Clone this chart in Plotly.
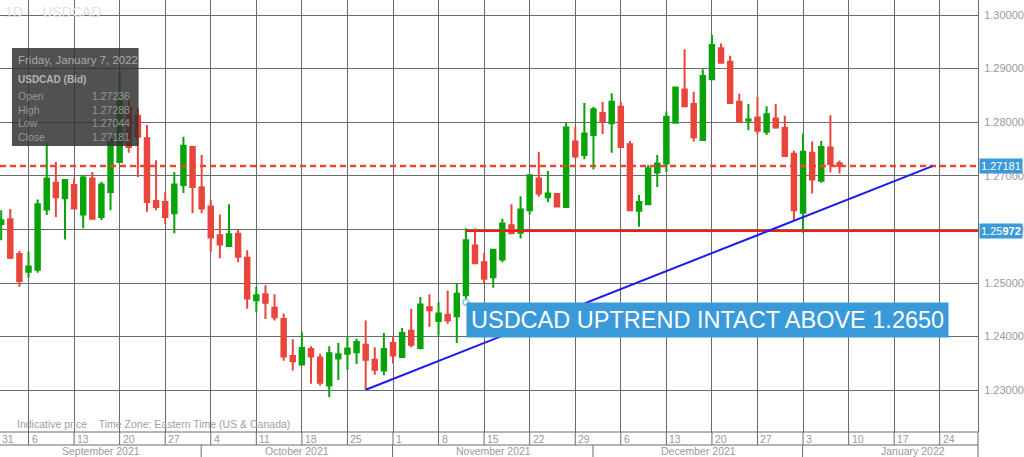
import pandas as pd
import plotly.graph_objects as go

# daily USDCAD bid candles, Sep 1 2021 .. Jan 7 2022 (one per weekday)
dates = pd.bdate_range("2021-09-01", "2022-01-07")
open_ = [
    1.2610, 1.2619, 1.2554, 1.2521, 1.2525, 1.2637, 1.2687, 1.2658, 1.2683, 1.2628,
    1.2695, 1.2623, 1.2670, 1.2726, 1.2827, 1.2812, 1.2770, 1.2653, 1.2651, 1.2630,
    1.2683, 1.2754,
    1.2678, 1.2643, 1.2589, 1.2569, 1.2592, 1.2547, 1.2468, 1.2479, 1.2454, 1.2433,
    1.2364, 1.2348, 1.2377, 1.2361, 1.2309, 1.2359, 1.2368, 1.2371, 1.2385, 1.2357,
    1.2337,
    1.2388, 1.2362, 1.2411, 1.2379, 1.2455, 1.2429, 1.2441, 1.2438, 1.2477, 1.2570,
    1.2539, 1.2511, 1.2544, 1.2608, 1.2594, 1.2636, 1.2695, 1.2660, 1.2666, 1.2642,
    1.2764, 1.2739,
    1.2776, 1.2817, 1.2798, 1.2829, 1.2759, 1.2635, 1.2647, 1.2706, 1.2723, 1.2799,
    1.2861, 1.2834, 1.2767, 1.2880, 1.2938, 1.2913, 1.2838, 1.2803, 1.2809, 1.2782,
    1.2807, 1.2789, 1.2741,
    1.2631, 1.2743, 1.2691, 1.2753, 1.27236,
]
high = [
    1.2636, 1.2638, 1.2560, 1.2559, 1.2656, 1.2761, 1.2726, 1.2693, 1.2695, 1.2701,
    1.2707, 1.2689, 1.2770, 1.2896, 1.2848, 1.2826, 1.2795, 1.2729, 1.2670, 1.2707,
    1.2773, 1.2756,
    1.2739, 1.2655, 1.2628, 1.2647, 1.2600, 1.2561, 1.2493, 1.2496, 1.2479, 1.2443,
    1.2395, 1.2408, 1.2382, 1.2368, 1.2382, 1.2388, 1.2399, 1.2396, 1.2430, 1.2380,
    1.2407,
    1.2399, 1.2416, 1.2452, 1.2474, 1.2479, 1.2464, 1.2486, 1.2500, 1.2602, 1.2602,
    1.2556, 1.2564, 1.2620, 1.2647, 1.2662, 1.2703, 1.2745, 1.2709, 1.2668, 1.2799,
    1.2792, 1.2836,
    1.2829, 1.2838, 1.2854, 1.2838, 1.2765, 1.2664, 1.2720, 1.2739, 1.2820, 1.2866,
    1.2936, 1.2857, 1.2899, 1.2963, 1.2947, 1.2924, 1.2853, 1.2834, 1.2847, 1.2830,
    1.2834, 1.2812, 1.2747,
    1.2779, 1.2764, 1.2765, 1.2813, 1.27288,
]
low = [
    1.2580, 1.2545, 1.2493, 1.2510, 1.2519, 1.2627, 1.2623, 1.2581, 1.2638, 1.2602,
    1.2619, 1.2617, 1.2636, 1.2724, 1.2743, 1.2698, 1.2633, 1.2636, 1.2610, 1.2593,
    1.2668, 1.2630,
    1.2630, 1.2558, 1.2546, 1.2568, 1.2539, 1.2452, 1.2446, 1.2433, 1.2430, 1.2355,
    1.2337, 1.2346, 1.2312, 1.2309, 1.2287, 1.2319, 1.2338, 1.2349, 1.2301, 1.2329,
    1.2328,
    1.2350, 1.2361, 1.2380, 1.2376, 1.2418, 1.2402, 1.2424, 1.2388, 1.2468, 1.2536,
    1.2500, 1.2491, 1.2539, 1.2592, 1.2583, 1.2628, 1.2661, 1.2651, 1.2642, 1.2641,
    1.2733, 1.2731,
    1.2712, 1.2778, 1.2743, 1.2753, 1.2635, 1.2605, 1.2645, 1.2679, 1.2707, 1.2798,
    1.2828, 1.2764, 1.2766, 1.2879, 1.2910, 1.2834, 1.2799, 1.2785, 1.2778, 1.2776,
    1.2788, 1.2735, 1.2617,
    1.2594, 1.2667, 1.2687, 1.2706, 1.27044,
]
close = [
    1.2617, 1.2547, 1.2504, 1.2531, 1.2647, 1.2695, 1.2660, 1.2692, 1.2639, 1.2697,
    1.2620, 1.2684, 1.2767, 1.2841, 1.2754, 1.2773, 1.2651, 1.2642, 1.2623, 1.2684,
    1.2756, 1.2679,
    1.2639, 1.2585, 1.2572, 1.2591, 1.2549, 1.2471, 1.2477, 1.2463, 1.2436, 1.2363,
    1.2354, 1.2379, 1.2363, 1.2314, 1.2369, 1.2367, 1.2378, 1.2390, 1.2357, 1.2338,
    1.2377,
    1.2365, 1.2407, 1.2385, 1.2460, 1.2449, 1.2443, 1.2430, 1.2480, 1.2580, 1.2537,
    1.2508, 1.2562, 1.2611, 1.2593, 1.2637, 1.2701, 1.2667, 1.2667, 1.2643, 1.2790,
    1.2736, 1.2779,
    1.2824, 1.2801, 1.2838, 1.2754, 1.2636, 1.2651, 1.2714, 1.2723, 1.2810, 1.2865,
    1.2830, 1.2772, 1.2886, 1.2944, 1.2911, 1.2836, 1.2801, 1.2805, 1.2784, 1.2815,
    1.2790, 1.2737, 1.2636,
    1.2745, 1.2693, 1.2754, 1.2722, 1.27181,
]

last_price = 1.27181
support_level = 1.25972
support_start = "2021-11-11"
trend_start = ("2021-10-27", 1.2301)
trend_end_x = 102.2  # trading-day index where the drawn trendline stops
trend_end_y = 1.27181
note_text = "USDCAD UPTREND INTACT ABOVE 1.2650"
note_anchor = ("2021-11-11", 1.2464)
info_title = "Friday, January 7, 2022"
info_rows = [("Open", "1.27236"), ("High", "1.27288"), ("Low", "1.27044"), ("Close", "1.27181")]
months = ["September 2021", "October 2021", "November 2021", "December 2021", "January 2022"]

GREEN = "#0aa20a"
RED = "#e8453c"
GRID = "#6a6a6a"
BLUE_TAG = "#3a9ad9"
LABEL = "#9a9a9a"
FONT = "Liberation Sans, Arial, sans-serif"

# the chart skips weekends, so x is the trading-day index
axis_days = pd.bdate_range("2021-09-01", "2022-02-28")
idx = {d: i for i, d in enumerate(axis_days)}
x = [idx[d] for d in dates]
X_RANGE = [-0.13, 107.2]
Y_RANGE = [1.22221, 1.30280]
PLOT_H = 432.0
PLOT_W = 981.0

mondays = [i for i, d in enumerate(axis_days) if d.weekday() == 0 and i <= 103]
month_starts = []
for i, d in enumerate(axis_days):
    if i == 0 or d.month != axis_days[i - 1].month:
        month_starts.append(i)
month_starts = month_starts[:5]

fig = go.Figure()
fig.add_trace(
    go.Candlestick(
        x=x, open=open_, high=high, low=low, close=close,
        increasing=dict(line=dict(color=GREEN, width=2), fillcolor=GREEN),
        decreasing=dict(line=dict(color=RED, width=2), fillcolor=RED),
        whiskerwidth=0, showlegend=False, hoverinfo="skip",
    )
)
fig.add_trace(
    go.Scatter(
        x=[idx[pd.Timestamp(note_anchor[0])]], y=[note_anchor[1]], mode="markers",
        marker=dict(size=6, color="rgba(0,0,0,0)", line=dict(color="#8cc4ee", width=1.5)),
        showlegend=False, hoverinfo="skip",
    )
)

shapes = []
# price lines and trendline
shapes.append(dict(type="line", xref="paper", x0=0, x1=1, yref="y", y0=last_price, y1=last_price,
                   line=dict(color="#ee4433", width=2.5, dash="6px,4px")))
shapes.append(dict(type="line", xref="x", x0=idx[pd.Timestamp(support_start)], x1=X_RANGE[1],
                   yref="y", y0=support_level, y1=support_level, line=dict(color="#ff1a1a", width=2)))
shapes.append(dict(type="line", xref="x", x0=idx[pd.Timestamp(trend_start[0])], y0=trend_start[1],
                   x1=trend_end_x, y1=trend_end_y, yref="y", line=dict(color="#1c1cf0", width=2)))
# info panel
shapes.append(dict(type="rect", xref="paper", yref="paper", x0=12 / PLOT_W, x1=139 / PLOT_W,
                   y0=1 - 146 / PLOT_H, y1=1 - 48 / PLOT_H, fillcolor="rgba(48,48,48,0.84)",
                   line=dict(width=0), layer="above"))
# bottom date rows
row1 = -13 / PLOT_H
row2 = -26 / PLOT_H
for yy in (0, row1):
    shapes.append(dict(type="line", xref="paper", x0=0, x1=1, yref="paper", y0=yy, y1=yy,
                       line=dict(color=GRID, width=1)))
for m in mondays:
    shapes.append(dict(type="line", xref="x", x0=m, x1=m, yref="paper", y0=0, y1=row1,
                       line=dict(color=GRID, width=1)))
for m in month_starts[1:]:
    shapes.append(dict(type="line", xref="x", x0=m - 0.05, x1=m - 0.05, yref="paper", y0=row1, y1=row2,
                       line=dict(color=GRID, width=1)))
shapes.append(dict(type="line", xref="paper", x0=1, x1=1, yref="paper", y0=0, y1=row2,
                   line=dict(color=GRID, width=1)))

ann = []
ann.append(dict(text="1D&nbsp;&nbsp;&nbsp;&nbsp;&nbsp;USDCAD", xref="paper", yref="paper", x=3 / PLOT_W,
                y=1 - 2 / PLOT_H, xanchor="left", yanchor="top", showarrow=False,
                font=dict(family=FONT, size=14, color="#e2e2e2")))
ann.append(dict(text=info_title, xref="paper", yref="paper", x=16 / PLOT_W, y=1 - 60 / PLOT_H,
                xanchor="left", yanchor="middle", showarrow=False,
                font=dict(family=FONT, size=11.5, color="#a8a8a8")))
ann.append(dict(text="<b>USDCAD (Bid)</b>", xref="paper", yref="paper", x=16 / PLOT_W, y=1 - 80 / PLOT_H,
                xanchor="left", yanchor="middle", showarrow=False,
                font=dict(family=FONT, size=10, color="#b4b4b4")))
for k, (name, val) in enumerate(info_rows):
    yy = 1 - (96 + k * 13.5) / PLOT_H
    ann.append(dict(text=name, xref="paper", yref="paper", x=16 / PLOT_W, y=yy, xanchor="left",
                    yanchor="middle", showarrow=False, font=dict(family=FONT, size=10.5, color="#969696")))
    ann.append(dict(text=val, xref="paper", yref="paper", x=132 / PLOT_W, y=yy, xanchor="right",
                    yanchor="middle", showarrow=False, font=dict(family=FONT, size=10.5, color="#969696")))
ann.append(dict(text=note_text, x=idx[pd.Timestamp(note_anchor[0])], y=note_anchor[1], xref="x", yref="y",
                xanchor="left", yanchor="top", showarrow=False, bgcolor=BLUE_TAG, borderpad=4,
                font=dict(family=FONT, size=23.5, color="white")))
ann.append(dict(text=f"{last_price:.5f}", xref="paper", x=1, yref="y", y=last_price, xanchor="left",
                yanchor="middle", xshift=1, showarrow=False, bgcolor=BLUE_TAG, borderpad=1,
                font=dict(family=FONT, size=11, color="white")))
s = f"{support_level:.5f}"
ann.append(dict(text=s[:4] + "<b>" + s[4:] + "</b>", xref="paper", x=1, yref="y", y=support_level,
                xanchor="left", yanchor="middle", xshift=1, showarrow=False, bgcolor=BLUE_TAG, borderpad=1,
                font=dict(family=FONT, size=11, color="white")))
ann.append(dict(text="Indicative price&nbsp;&nbsp;&nbsp;&nbsp;Time Zone: Eastern Time (US & Canada)",
                xref="paper", yref="paper", x=15 / PLOT_W, y=1 - 424 / PLOT_H, xanchor="left",
                yanchor="middle", showarrow=False, font=dict(family=FONT, size=10.5, color="#a0a0a0")))
# day-of-month labels
ann.append(dict(text="31", xref="paper", x=0, yref="paper", y=row1 / 2, xanchor="left", yanchor="middle",
                showarrow=False, font=dict(family=FONT, size=10.5, color=LABEL)))
for m in mondays:
    ann.append(dict(text=str(axis_days[m].day), xref="x", x=m, yref="paper", y=row1 / 2, xanchor="left",
                    yanchor="middle", xshift=1, showarrow=False, font=dict(family=FONT, size=10.5, color=LABEL)))
# month labels centred in their spans; January runs on past the visible range
bounds = [X_RANGE[0]] + month_starts[1:] + [112.2]
for k, name in enumerate(months):
    ann.append(dict(text=name, xref="x", x=(bounds[k] + bounds[k + 1]) / 2, yref="paper",
                    y=-19 / PLOT_H, xanchor="center", yanchor="middle", showarrow=False,
                    font=dict(family=FONT, size=10.5, color=LABEL)))

fig.update_layout(
    width=1024, height=457,
    margin=dict(l=0, r=43, t=0, b=25),
    paper_bgcolor="white", plot_bgcolor="white",
    shapes=shapes, annotations=ann,
    font=dict(family=FONT),
    xaxis=dict(range=X_RANGE, tickmode="array", tickvals=mondays, showticklabels=False, ticks="",
               showgrid=True, gridcolor=GRID, gridwidth=1, zeroline=False, showline=False,
               rangeslider=dict(visible=False), fixedrange=True),
    yaxis=dict(range=Y_RANGE, side="right", tick0=1.23, dtick=0.01, tickformat=".5f", ticks="",
               showgrid=True, gridcolor=GRID, gridwidth=1, zeroline=False, showline=True, linecolor=GRID,
               tickfont=dict(family=FONT, size=11, color=LABEL), ticklabelstandoff=3, fixedrange=True),
)

# the page's default body margin would push the 1024x457 figure off the window
fig.write_html("out.html", config={"displayModeBar": False},
               post_script="document.body.style.margin='0';")
